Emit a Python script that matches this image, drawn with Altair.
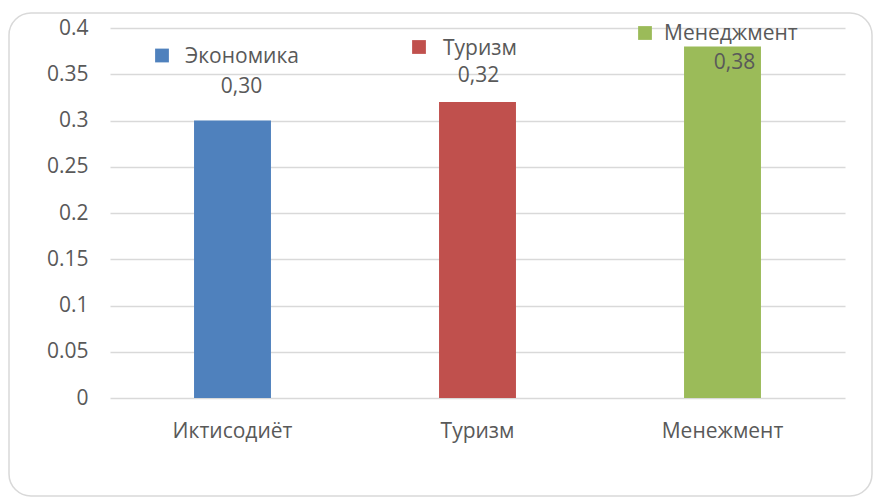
import altair as alt
import pandas as pd

# ---- data ----
categories = ["Иктисодиёт", "Туризм", "Менежмент"]
values = [0.30, 0.32, 0.38]
value_labels = ["0,30", "0,32", "0,38"]
legend_names = ["Экономика", "Туризм", "Менеджмент"]
colors = ["#4F81BD", "#C0504D", "#9BBB59"]
y_ticks = [0, 0.05, 0.1, 0.15, 0.2, 0.25, 0.3, 0.35, 0.4]

df = pd.DataFrame({"cat": categories, "value": values, "label": value_labels})

# ---- layout (pixels, relative to the plot area) ----
W, H = 735, 370
FONT = "Open Sans"
FS = 21
TXT = "#595959"
label_offsets = [(9, -33.5), (1, -26), (12, 16)]          # dx, dy of value labels
legend_pos = [(52, 27.5, 75, 29), (309, 19, 333, 20.5), (535, 5, 554, 6)]  # sq x,y ; text x,y

xenc = alt.X("cat:N", sort=categories, title=None,
             scale=alt.Scale(paddingInner=0.686, paddingOuter=0.343),
             axis=alt.Axis(labelAngle=0, ticks=False, domain=False, labelPadding=22,
                           labelFont=FONT, labelFontSize=FS, labelColor=TXT))
yenc = alt.Y("value:Q", title=None,
             scale=alt.Scale(domain=[0, 0.4], nice=False),
             axis=alt.Axis(values=y_ticks, format=".2~f", ticks=False, domain=False,
                           labelPadding=22, labelFont=FONT, labelFontSize=FS,
                           labelColor=TXT, gridColor="#d9d9d9", gridWidth=1.5))

border = alt.Chart(pd.DataFrame({"k": [0]})).mark_rect(
    cornerRadius=22, fill="transparent", stroke="#d9d9d9", strokeWidth=1.5
).encode(x=alt.value(-101), x2=alt.value(762), y=alt.value(-15), y2=alt.value(468))

bars = alt.Chart(df).mark_bar().encode(
    x=xenc, y=yenc,
    color=alt.Color("cat:N", sort=categories,
                    scale=alt.Scale(domain=categories, range=colors), legend=None),
)

layers = [border, bars]
for cat, (dx, dy) in zip(categories, label_offsets):
    layers.append(
        alt.Chart(df).transform_filter(alt.datum.cat == cat).mark_text(
            font=FONT, fontSize=FS, color=TXT, dx=dx, dy=dy, baseline="middle"
        ).encode(x=alt.X("cat:N", sort=categories), y="value:Q", text="label:N")
    )

for name, col, (sx, sy, tx, ty) in zip(legend_names, colors, legend_pos):
    one = pd.DataFrame({"name": [name]})
    layers.append(
        alt.Chart(one).mark_square(size=190, filled=True, opacity=1, color=col).encode(
            x=alt.value(sx), y=alt.value(sy))
    )
    layers.append(
        alt.Chart(one).mark_text(font=FONT, fontSize=FS, color=TXT, align="left",
                                 baseline="middle").encode(
            x=alt.value(tx), y=alt.value(ty), text="name:N")
    )

chart = alt.layer(*layers).properties(
    width=W, height=H,
    padding={"left": 110, "top": 28, "right": 30, "bottom": 102},
    autosize=alt.AutoSizeParams(type="none"),
    background="white",
).configure_view(stroke=None)

chart.save("out.html", embed_options={"renderer": "svg", "actions": False})
